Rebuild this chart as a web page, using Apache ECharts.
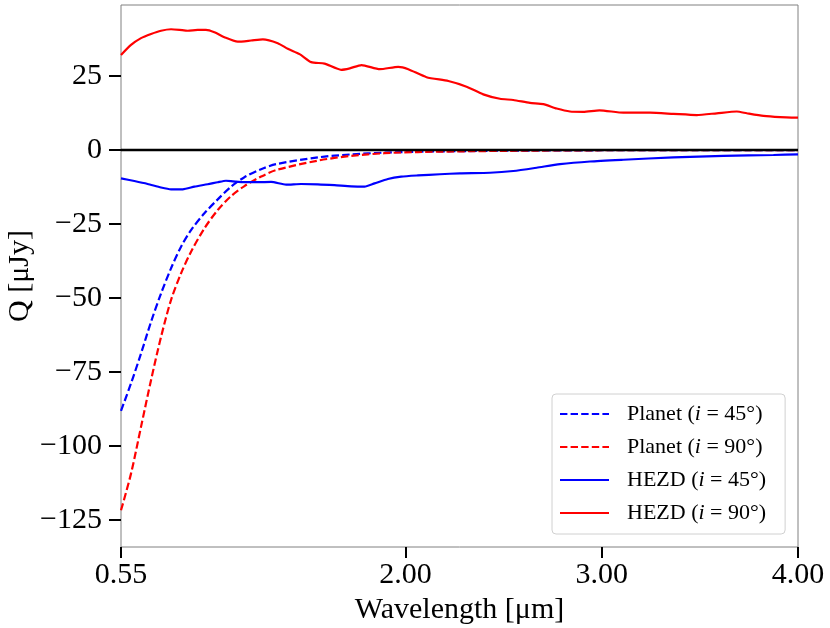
<!DOCTYPE html>
<html>
<head>
<meta charset="utf-8">
<script src="https://cdn.jsdelivr.net/npm/echarts@6/dist/echarts.min.js"></script>
<style>
  html, body { margin: 0; padding: 0; background: #fff; }
  #chart { width: 830px; height: 628px; }
</style>
</head>
<body>
<div id="chart"></div>
<script>
// values
var xTicks = [0.55, 2.00, 3.00, 4.00];
var yTicks = [-125, -100, -75, -50, -25, 0, 25];

var planetX = [0.55, 0.601, 0.652, 0.703, 0.754, 0.805, 0.856, 0.907, 0.975, 1.043, 1.111,
    1.179, 1.264, 1.340, 1.553, 1.723, 1.893, 2.063, 2.5, 3.0, 4.0];
var planet45Y = [-88.2, -78.9, -68.8, -58.1, -48.5, -40.0, -32.7, -27.1, -21.4, -16.7, -12.4,
    -9.2, -6.5, -4.8, -2.5, -1.5, -0.9, -0.6, -0.25, -0.1, -0.03];
var planet90Y = [-121.8, -109.4, -93.6, -77.8, -63.2, -50.7, -41.7, -34.4, -26.5, -20.3, -15.6,
    -12.2, -9.0, -6.8, -3.6, -2.0, -1.1, -0.7, -0.3, -0.1, -0.03];

var hezd45X = [0.55, 0.618, 0.686, 0.754, 0.805, 0.865, 0.924, 0.992, 1.043, 1.085, 1.120, 1.179,
    1.247, 1.315, 1.391, 1.468, 1.553, 1.638, 1.723, 1.791, 1.842, 1.910, 1.978, 2.063, 2.175,
    2.277, 2.430, 2.549, 2.668, 2.787, 2.940, 3.110, 3.365, 3.620, 3.875, 4.0];
var hezd45Y = [-9.6, -10.5, -11.5, -12.7, -13.3, -13.3, -12.4, -11.6, -10.9, -10.4, -10.6, -10.9,
    -10.9, -10.8, -11.7, -11.5, -11.6, -11.9, -12.3, -12.4, -11.3, -9.8, -9.0, -8.6, -8.2,
    -7.9, -7.7, -7.1, -6.0, -4.8, -3.9, -3.3, -2.5, -2.0, -1.7, -1.5];

var hezd90X = [0.55, 0.601, 0.652, 0.703, 0.754, 0.805, 0.848, 0.890, 0.941, 0.983, 1.026, 1.077,
    1.145, 1.213, 1.273, 1.349, 1.400, 1.460, 1.519, 1.587, 1.672, 1.716, 1.776, 1.869, 1.963,
    2.014, 2.107, 2.218, 2.311, 2.396, 2.481, 2.549, 2.634, 2.702, 2.770, 2.838, 2.906, 2.988,
    3.110, 3.246, 3.365, 3.484, 3.586, 3.688, 3.739, 3.824, 3.909, 4.0];
var hezd90Y = [32.1, 35.5, 37.8, 39.2, 40.3, 40.8, 40.6, 40.3, 40.6, 40.6, 39.8, 38.1,
    36.6, 37.0, 37.4, 36.1, 34.2, 32.4, 29.7, 29.2, 27.1, 27.6, 28.7, 27.3, 28.1,
    27.3, 24.6, 23.3, 21.4, 18.8, 17.3, 16.9, 15.9, 15.5, 14.0, 13.0, 12.9, 13.4,
    12.6, 12.6, 12.2, 11.8, 12.4, 13.0, 12.4, 11.5, 11.1, 10.9];

var names = ['Planet (i = 45°)', 'Planet (i = 90°)', 'HEZD (i = 45°)', 'HEZD (i = 90°)'];

function zip(xs, ys) {
    return xs.map(function (x, i) {
        return [x, ys[i]];
    });
}

var font = '"Liberation Serif", "DejaVu Serif", serif';
var chart = echarts.init(document.getElementById('chart'));

var option = {
    animation: false,
    grid: {
        left: 121, right: 32, top: 5, bottom: 81,
        outerBoundsMode: 'none',
        containLabel: false,
        show: true, borderColor: '#808080', borderWidth: 1
    },
    legend: {
        orient: 'vertical',
        left: 552, top: 394,
        padding: [9, 19, 10, 7],
        itemWidth: 49, itemHeight: 14, itemGap: 11,
        borderColor: '#d0d0d0', borderWidth: 1, borderRadius: 4,
        backgroundColor: '#fff',
        itemStyle: {opacity: 0},
        data: names,
        formatter: function (name) {
            return name.replace('i =', '{it|i} =');
        },
        textStyle: {
            fontFamily: font, fontSize: 22, color: '#000', padding: [0, 0, 0, 13],
            rich: {
                it: {fontFamily: font, fontSize: 22, fontStyle: 'italic', color: '#000'}
            }
        }
    },
    xAxis: {
        type: 'value',
        min: 0.55, max: 4,
        name: 'Wavelength [μm]',
        nameLocation: 'middle',
        nameGap: 44,
        nameTextStyle: {fontFamily: font, fontSize: 30, color: '#000'},
        axisLine: {show: false, onZero: false},
        splitLine: {show: false},
        axisTick: {show: true, length: 11, lineStyle: {color: '#000', width: 2}, customValues: xTicks},
        axisLabel: {
            fontFamily: font, fontSize: 30, color: '#000', margin: 13,
            customValues: xTicks,
            formatter: function (v) { return v.toFixed(2); }
        }
    },
    yAxis: {
        type: 'value',
        min: -134.2, max: 49,
        name: 'Q [μJy]',
        nameLocation: 'middle',
        nameGap: 86,
        nameMoveOverlap: false,
        nameTextStyle: {fontFamily: font, fontSize: 30, color: '#000'},
        axisLine: {show: false, onZero: false},
        splitLine: {show: false},
        axisTick: {show: true, length: 12, lineStyle: {color: '#000', width: 2}, customValues: yTicks},
        axisLabel: {
            fontFamily: font, fontSize: 30, color: '#000', margin: 19,
            customValues: yTicks,
            formatter: function (v) { return String(v).replace('-', '\u2212'); }
        }
    },
    series: [{
        name: names[0],
        type: 'line',
        showSymbol: false,
        smooth: 0.3,
        color: '#0000ff',
        lineStyle: {color: '#0000ff', width: 2.2, type: [7.4, 3.2]},
        data: zip(planetX, planet45Y)
    }, {
        name: names[1],
        type: 'line',
        showSymbol: false,
        smooth: 0.3,
        color: '#ff0000',
        lineStyle: {color: '#ff0000', width: 2.2, type: [7.4, 3.2]},
        data: zip(planetX, planet90Y)
    }, {
        name: names[2],
        type: 'line',
        showSymbol: false,
        smooth: 0.2,
        color: '#0000ff',
        lineStyle: {color: '#0000ff', width: 2.2},
        data: zip(hezd45X, hezd45Y)
    }, {
        name: names[3],
        type: 'line',
        showSymbol: false,
        smooth: 0.2,
        color: '#ff0000',
        lineStyle: {color: '#ff0000', width: 2.2},
        data: zip(hezd90X, hezd90Y),
        markLine: {
            silent: true,
            symbol: 'none',
            label: {show: false},
            lineStyle: {color: '#000', width: 2.4, type: 'solid'},
            data: [{yAxis: 0}]
        }
    }]
};

chart.setOption(option);
</script>
</body>
</html>
